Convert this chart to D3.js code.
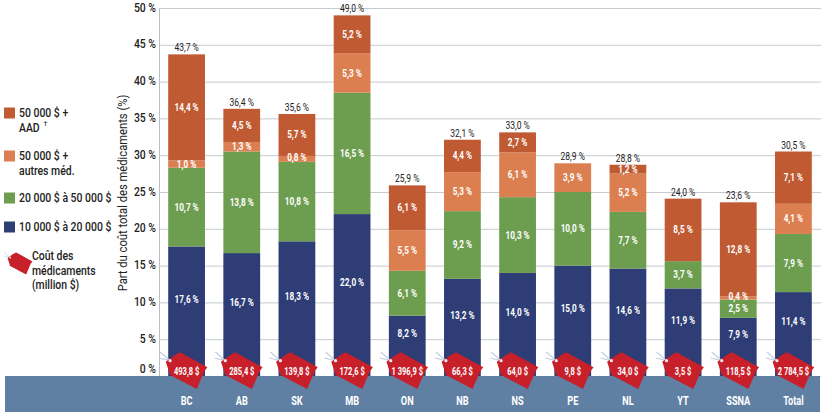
<!DOCTYPE html>
<html>
<head>
<meta charset="utf-8">
<script src="https://cdn.jsdelivr.net/npm/d3@7"></script>
<style>
body { margin: 0; background: white; }
text { font-family: "Roboto", sans-serif; }
</style>
</head>
<body>
<div id="chart"></div>
<script>
var categories = ["BC", "AB", "SK", "MB", "ON", "NB", "NS", "PE", "NL", "YT", "SSNA", "Total"];
var band10to20 = [17.6, 16.7, 18.3, 22.0, 8.2, 13.2, 14.0, 15.0, 14.6, 11.9, 7.9, 11.4];
var band20to50 = [10.7, 13.8, 10.8, 16.5, 6.1, 9.2, 10.3, 10.0, 7.7, 3.7, 2.5, 7.9];
var band50other = [1.0, 1.3, 0.8, 5.3, 5.5, 5.3, 6.1, 3.9, 5.2, 0, 0.4, 4.1];
var band50aad = [14.4, 4.5, 5.7, 5.2, 6.1, 4.4, 2.7, 0, 1.2, 8.5, 12.8, 7.1];
var totals = [43.7, 36.4, 35.6, 49.0, 25.9, 32.1, 33.0, 28.9, 28.8, 24.0, 23.6, 30.5];
var drugCost = [493.8, 285.4, 139.8, 172.6, 1396.9, 66.3, 64.0, 9.8, 34.0, 3.5, 118.5, 2784.5];
var yTicks = [0, 5, 10, 15, 20, 25, 30, 35, 40, 45, 50];

var width = 832, height = 417;
var svg = d3.select("#chart").append("svg")
    .attr("width", width)
    .attr("height", height);

var x = d3.scaleBand().domain(categories).range([159, 821]).paddingInner(1 / 3).paddingOuter(1 / 6);
var y = d3.scaleLinear().domain([0, 50]).range([376, 8]);

var locale = d3.formatLocale({decimal: ",", thousands: " ", grouping: [3]});
var pct = locale.format(".1f");
var money = locale.format(",.1f");

// the original uses a condensed font, so squeeze the text horizontally
function squeeze(sel, k) {
    sel.each(function() {
        d3.select(this)
            .attr("textLength", this.getComputedTextLength() * k)
            .attr("lengthAdjust", "spacingAndGlyphs");
    });
}

// grid + y axis
var yAxis = svg.append("g")
    .attr("transform", "translate(159,0)")
    .call(d3.axisLeft(y).tickValues(yTicks).tickSize(-662).tickPadding(3).tickFormat(d => d + " %"));
yAxis.select(".domain").attr("stroke", "#b9bec4");
yAxis.selectAll("line").attr("stroke", "#c6cace");
yAxis.selectAll("text")
    .attr("font-size", 13)
    .attr("font-weight", 500)
    .attr("fill", "#222")
    .attr("y", d => d == 0 ? -8 : -1);
squeeze(yAxis.selectAll("text"), 0.8);

svg.append("text")
    .attr("transform", "translate(127,193) rotate(-90)")
    .attr("text-anchor", "middle")
    .attr("font-size", 13.5)
    .attr("fill", "#222")
    .text("Part du coût total des médicaments (%)")
    .call(squeeze, 0.83);

// bottom band
svg.append("rect")
    .attr("x", 5).attr("y", 376)
    .attr("width", 815).attr("height", 36)
    .attr("fill", "#5f7fa3");

// stacked bars
var seriesValues = [band10to20, band20to50, band50other, band50aad];
var colors = ["#2e3d75", "#6d9e50", "#dc7f50", "#bf5a33"];
var rows = categories.map((c, i) => {
    var row = {cat: c};
    seriesValues.forEach((s, k) => { row[k] = s[i]; });
    return row;
});
var stacked = d3.stack().keys([0, 1, 2, 3])(rows);

stacked.forEach((layer, k) => {
    svg.append("g").selectAll("rect").data(layer).enter().append("rect")
        .attr("x", d => x(d.data.cat))
        .attr("y", d => y(d[1]))
        .attr("width", x.bandwidth())
        .attr("height", d => y(d[0]) - y(d[1]))
        .attr("fill", colors[k]);
});
// labels go on after all the rects so thin segments dont hide them
var tagTop = 3.3; // the tags hide the foot of the bars, navy labels centre on what is left
stacked.forEach(layer => {
    svg.append("g").selectAll("text").data(layer.filter(d => d[1] > d[0])).enter().append("text")
        .attr("x", d => x(d.data.cat) + x.bandwidth() / 2)
        .attr("y", d => y((Math.max(d[0], tagTop) + d[1]) / 2) - (d[1] - d[0] < 1 ? 1.5 : 0))
        .attr("text-anchor", "middle")
        .attr("dominant-baseline", "central")
        .attr("font-size", 10)
        .attr("font-weight", "bold")
        .attr("fill", "white")
        .text(d => pct(d[1] - d[0]) + " %")
        .call(squeeze, 0.82);
});

// totals above the bars
svg.append("g").selectAll("text").data(categories).enter().append("text")
    .attr("x", d => x(d) + x.bandwidth() / 2)
    .attr("y", (d, i) => y(d3.sum(seriesValues, s => s[i])) - 3)
    .attr("text-anchor", "middle")
    .attr("font-size", 10)
    .attr("fill", "#222")
    .text((d, i) => pct(totals[i]) + " %")
    .call(squeeze, 0.85);

// price tag, drawn around its own centre
var tagBody = "M-6.5,-17.7 L20.8,-2.7 L18,1 L10.2,19 L-16.5,5 L-20.8,-8.3 L-11.5,-15 Z";
function drawTag(parent) {
    parent.append("path")
        .attr("d", "M-16.5,-9.3 L-26.5,-18 M-16.5,-9.3 L-27.5,-12")
        .attr("stroke", "#c3cfe0")
        .attr("stroke-width", 1.2)
        .attr("fill", "none");
    parent.append("path").attr("d", tagBody).attr("fill", "#c8202a");
    parent.append("circle")
        .attr("cx", -16.5).attr("cy", -9.3).attr("r", 1.6)
        .attr("fill", "#e8e8ee");
}

categories.forEach((c, i) => {
    var g = svg.append("g")
        .attr("transform", "translate(" + (x(c) + x.bandwidth() / 2) + ",370)");
    drawTag(g);
    g.append("text")
        .attr("x", 0).attr("y", 1)
        .attr("text-anchor", "middle")
        .attr("dominant-baseline", "central")
        .attr("font-size", 10)
        .attr("font-weight", "bold")
        .attr("fill", "white")
        .text(money(drugCost[i]) + " $")
        .call(squeeze, 0.75);
});

// category labels
var xAxis = svg.append("g")
    .attr("transform", "translate(0,376)")
    .call(d3.axisBottom(x).tickSize(0).tickPadding(19));
xAxis.select(".domain").remove();
xAxis.selectAll("text")
    .attr("font-size", 13.5)
    .attr("font-weight", "bold")
    .attr("fill", "white");
squeeze(xAxis.selectAll("text"), 0.68);

// legend
var legendLabels = [["50 000 $ +", "AAD"], ["50 000 $ +", "autres méd."], ["20 000 $ à 50 000 $"], ["10 000 $ à 20 000 $"]];
var legendColors = [colors[3], colors[2], colors[1], colors[0]];
var legendY = [113, 156, 198, 227];
legendLabels.forEach((lines, i) => {
    svg.append("rect")
        .attr("x", 4).attr("y", legendY[i] - 5.5)
        .attr("width", 11).attr("height", 11)
        .attr("fill", legendColors[i]);
    lines.forEach((line, j) => {
        svg.append("text")
            .attr("x", 19).attr("y", legendY[i] + j * 15)
            .attr("dominant-baseline", "central")
            .attr("font-size", 12)
            .attr("font-weight", 500)
            .attr("fill", "#222")
            .text(line)
            .call(squeeze, 0.87);
    });
});
// dagger after AAD sits a bit higher and smaller
svg.append("text")
    .attr("x", 43.5).attr("y", 124)
    .attr("dominant-baseline", "central")
    .attr("font-size", 7)
    .attr("fill", "#222")
    .text("†");

drawTag(svg.append("g").attr("transform", "translate(20,263) scale(0.6)"));
["Coût des", "médicaments", "(million $)"].forEach((line, j) => {
    svg.append("text")
        .attr("x", 32).attr("y", 256 + j * 14.5)
        .attr("dominant-baseline", "central")
        .attr("font-size", 12)
        .attr("font-weight", 500)
        .attr("fill", "#222")
        .text(line)
        .call(squeeze, 0.87);
});
</script>
</body>
</html>
